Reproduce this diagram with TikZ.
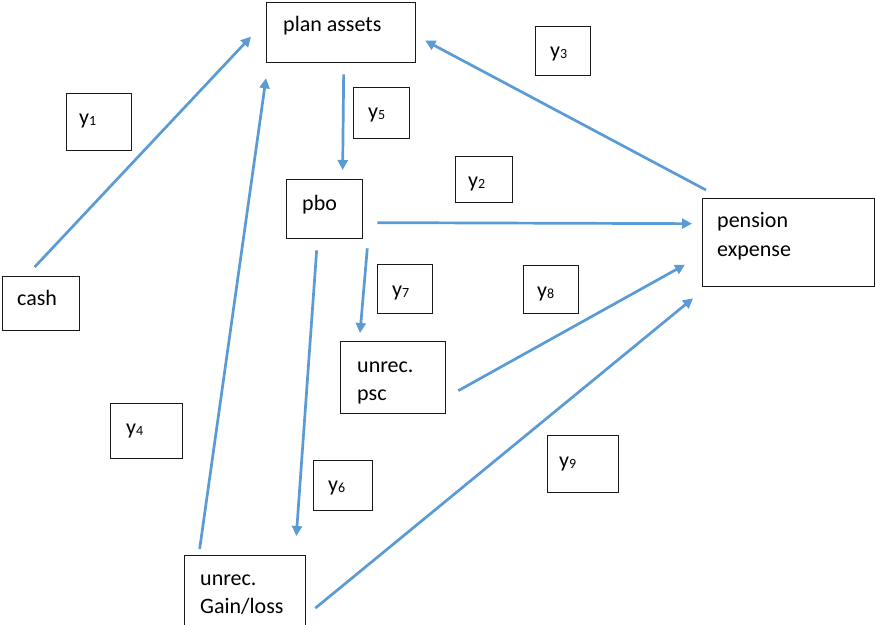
\documentclass[tikz,border=0pt]{standalone}
\usepackage{fontspec}
\setmainfont{Carlito}
\usetikzlibrary{arrows.meta}
\definecolor{flow}{HTML}{5B9BD5}
\newcommand{\ysub}[1]{y\raisebox{-1pt}{\fontsize{14}{14}\selectfont #1}}
\tikzset{
  box/.style={draw=black!90, line width=1.3pt, rectangle, inner sep=0pt, anchor=north west},
  txt/.style={anchor=base west, inner sep=0pt, font=\fontsize{22}{28}\selectfont},
  flowarrow/.style={draw=flow, line width=2.7pt, -{Triangle[length=10pt, width=10pt]}}
}
\begin{document}
\begin{tikzpicture}[x=1pt, y=-1pt]
\useasboundingbox (0,0) rectangle (875,624);

% main boxes
\node[box, minimum width=149pt, minimum height=60pt] (plan) at (266,2) {};
\node[box, minimum width=77pt, minimum height=54pt] (cash) at (2,276) {};
\node[box, minimum width=76pt, minimum height=59pt] (pbo) at (286,179) {};
\node[box, minimum width=105pt, minimum height=72pt] (psc) at (340,341) {};
\node[box, minimum width=172pt, minimum height=88pt] (pension) at (702,198) {};
\node[box, minimum width=121pt, minimum height=70pt] (gain) at (184,555) {};

\node[txt] (planT) at (283,31) {plan assets};
\node[txt] (cashT) at (17,305) {cash};
\node[txt] (pboT) at (302,210) {pbo};
\node[txt] (pscT1) at (357,372) {unrec.};
\node[txt] (pscT2) at (357,400) {psc};
\node[txt] (penT1) at (717,227) {pension};
\node[txt] (penT2) at (717,256) {expense};
\node[txt] (gainT1) at (200,585) {unrec.};
\node[txt] (gainT2) at (200,613) {Gain/loss};

% label boxes
\node[box, minimum width=65pt, minimum height=57pt] (b1) at (66,93) {};
\node[box, minimum width=55pt, minimum height=49pt] (b3) at (535,26) {};
\node[box, minimum width=56pt, minimum height=51pt] (b5) at (353,87) {};
\node[box, minimum width=57pt, minimum height=46pt] (b2) at (455,156) {};
\node[box, minimum width=55pt, minimum height=49pt] (b7) at (377,264) {};
\node[box, minimum width=55pt, minimum height=48pt] (b8) at (523,265) {};
\node[box, minimum width=72pt, minimum height=55pt] (b4) at (110,403) {};
\node[box, minimum width=59pt, minimum height=50pt] (b6) at (313,460) {};
\node[box, minimum width=71pt, minimum height=57pt] (b9) at (547,435) {};

\node[txt] (l1) at (79,124) {\ysub{1}};
\node[txt] (l3) at (550,57) {\ysub{3}};
\node[txt] (l5) at (368,118) {\ysub{5}};
\node[txt] (l2) at (468,187) {\ysub{2}};
\node[txt] (l7) at (392,296) {\ysub{7}};
\node[txt] (l8) at (537,297) {\ysub{8}};
\node[txt] (l4) at (126,434) {\ysub{4}};
\node[txt] (l6) at (328,491) {\ysub{6}};
\node[txt] (l9) at (559,467) {\ysub{9}};

% flows
\draw[flowarrow] ([shift={(-6.5,-9)}]cash.north) -- ([shift={(-15,4)}]plan.west);
\draw[flowarrow] ([shift={(-45.5,-6)}]gain.north) -- ([shift={(0,15)}]plan.south west);
\draw[flowarrow] ([shift={(2.5,11)}]plan.south) -- ([shift={(18,-9)}]pbo.north);
\draw[flowarrow] ([shift={(4,-8)}]pension.north west) -- ([shift={(9,8)}]plan.east);
\draw[flowarrow] ([shift={(14,13.5)}]pbo.east) -- ([shift={(-10,-19)}]pension.west);
\draw[flowarrow] ([shift={(4,9)}]pbo.south east) -- ([shift={(20,-8)}]psc.north west);
\draw[flowarrow] ([shift={(-8,11)}]pbo.south) -- ([shift={(-10,-19)}]gain.north east);
\draw[flowarrow] ([shift={(12,13)}]psc.east) -- ([shift={(-17,22)}]pension.west);
\draw[flowarrow] ([shift={(9,17.5)}]gain.east) -- ([shift={(-9,11)}]pension.south west);
\end{tikzpicture}
\end{document}
